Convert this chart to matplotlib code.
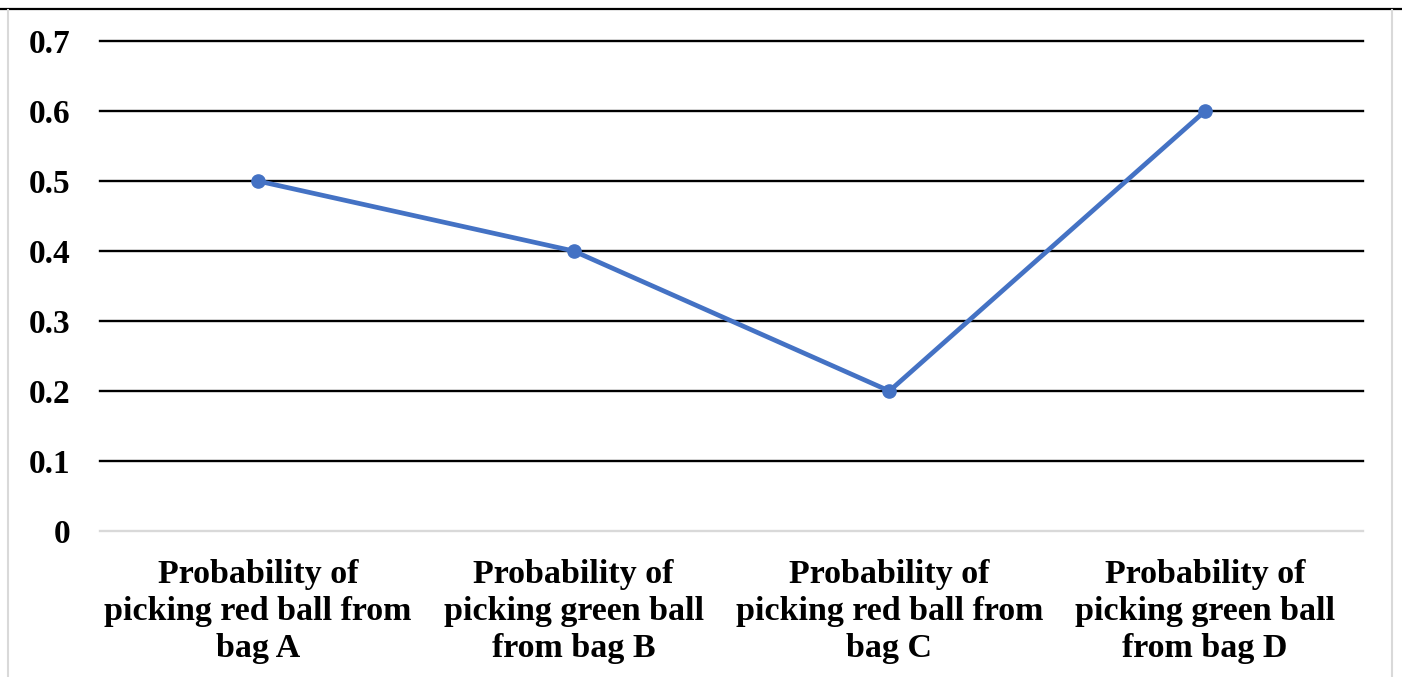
import matplotlib.pyplot as plt
from matplotlib.lines import Line2D

categories = [
    "Probability of\npicking red ball from\nbag A",
    "Probability of\npicking green ball\nfrom bag B",
    "Probability of\npicking red ball from\nbag C",
    "Probability of\npicking green ball\nfrom bag D",
]
values = [0.5, 0.4, 0.2, 0.6]
yticks = [0, 0.1, 0.2, 0.3, 0.4, 0.5, 0.6, 0.7]
ytick_labels = ["0", "0.1", "0.2", "0.3", "0.4", "0.5", "0.6", "0.7"]

plt.rcParams['font.family'] = ['Liberation Serif', 'DejaVu Serif']

fig = plt.figure(figsize=(14.02, 6.77), dpi=100)
ax = fig.add_axes([100 / 1402, 1 - 531 / 677, 1263 / 1402, 490 / 677])

x = [i + 0.5 for i in range(len(categories))]
ax.plot(x, values, color='#4472C4', linewidth=3.4, marker='o', markersize=9.5, zorder=3)

ax.set_xlim(0, len(categories))
ax.set_ylim(0, 0.7)
ax.set_yticks(yticks)
ax.set_yticklabels(ytick_labels, fontsize=24, fontweight='bold')
ax.set_xticks(x)
ax.set_xticklabels(categories, fontsize=24.5, fontweight='bold', linespacing=1.25)
ax.tick_params(length=0, pad=21, axis='y')
ax.tick_params(length=0, pad=20, axis='x')

for t in yticks[1:]:
    ax.axhline(t, color='black', linewidth=1.7, zorder=1, clip_on=False)
ax.axhline(0, color='#D9D9D9', linewidth=1.7, zorder=1, clip_on=False)

for s in ax.spines.values():
    s.set_visible(False)

# page border lines
fig.add_artist(Line2D([0, 1], [1 - 8.5 / 677] * 2, color='black', linewidth=1.6))
fig.add_artist(Line2D([8 / 1402] * 2, [0, 1 - 10 / 677], color='#D9D9D9', linewidth=1.5))
fig.add_artist(Line2D([1392 / 1402] * 2, [0, 1 - 10 / 677], color='#D9D9D9', linewidth=1.5))

fig.savefig('out.png', dpi=100)
